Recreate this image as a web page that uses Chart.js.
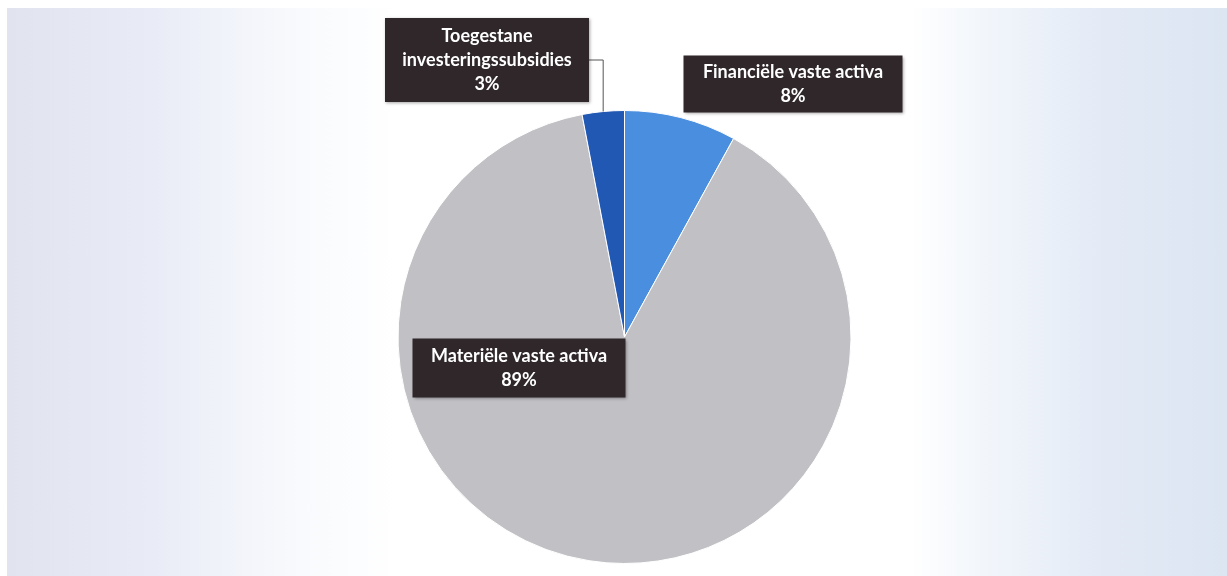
<!DOCTYPE html>
<html>
<head>
<meta charset="utf-8">
<script src="https://cdn.jsdelivr.net/npm/chart.js@4.4.1/dist/chart.umd.min.js"></script>
<style>
  html, body { margin: 0; padding: 0; background: #fff; }
  #wrap {
    position: relative;
    width: 1227px;
    height: 576px;
    overflow: hidden;
  }
  #bg {
    position: absolute;
    left: 7px; top: 8px; right: 0; bottom: 0;
    background: linear-gradient(to right, #e1e3ef 0%, #e9ecf6 12%, #f8fafd 24%, #ffffff 32%, #ffffff 74%, #f2f6fb 80%, #e3eaf6 90%, #dce5f2 100%);
  }
  canvas { position: absolute; left: 0; top: 0; }
</style>
</head>
<body>
<div id="wrap">
  <div id="bg"></div>
  <canvas id="pieChart" width="1227" height="576"></canvas>
</div>
<script>
const labels = ["Financiële vaste activa", "Materiële vaste activa", "Toegestane investeringssubsidies"];
const values = [8, 89, 3];
const sliceColors = ["#4a8ee0", "#c1c0c5", "#2058b4"];

// label box text lines, per slice
const labelLines = [
  ["Financiële vaste activa", "8%"],
  ["Materiële vaste activa", "89%"],
  ["Toegestane", "investeringssubsidies", "3%"]
];

// box placement (center x, center y, width, height)
const labelBoxes = [
  { cx: 793, cy: 84, w: 219, h: 57 },
  { cx: 519, cy: 368, w: 213, h: 59 },
  { cx: 487, cy: 60, w: 204, h: 84 }
];

const boxLabels = {
  id: "boxLabels",
  afterDatasetsDraw(chart) {
    const ctx = chart.ctx;
    const arcs = chart.getDatasetMeta(0).data;
    ctx.save();

    // leader line for the small slice
    const small = arcs[2];
    const b2 = labelBoxes[2];
    const midA = (small.startAngle + small.endAngle) / 2;
    const tipX = small.x + Math.cos(midA) * small.outerRadius;
    const tipY = small.y + Math.sin(midA) * small.outerRadius;
    ctx.strokeStyle = "#555";
    ctx.lineWidth = 1;
    ctx.beginPath();
    ctx.moveTo(b2.cx + b2.w / 2, b2.cy);
    ctx.lineTo(tipX, b2.cy);
    ctx.lineTo(tipX, tipY);
    ctx.stroke();

    labelLines.forEach((lines, i) => {
      const b = labelBoxes[i];
      ctx.shadowColor = "rgba(0,0,0,0.35)";
      ctx.shadowBlur = 3;
      ctx.shadowOffsetX = 1;
      ctx.shadowOffsetY = 1;
      ctx.fillStyle = "#2f2729";
      ctx.fillRect(b.cx - b.w / 2, b.cy - b.h / 2, b.w, b.h);
      ctx.shadowColor = "transparent";
      ctx.fillStyle = "#ffffff";
      ctx.font = "bold 18px Lato, 'Open Sans', sans-serif";
      ctx.textAlign = "center";
      ctx.textBaseline = "middle";
      const lh = 24;
      const top = b.cy - (lines.length - 1) * lh / 2;
      lines.forEach((t, j) => ctx.fillText(t, b.cx, top + j * lh));
    });
    ctx.restore();
  }
};

new Chart(document.getElementById("pieChart"), {
  type: "pie",
  data: {
    labels,
    datasets: [{
      data: values,
      backgroundColor: sliceColors,
      borderColor: "#ffffff",
      borderWidth: 1
    }]
  },
  options: {
    responsive: false,
    animation: false,
    layout: { padding: { top: 110, bottom: 12, left: 22, right: 0 } },
    plugins: {
      legend: { display: false },
      tooltip: { enabled: false }
    }
  },
  plugins: [boxLabels]
});
</script>
</body>
</html>
